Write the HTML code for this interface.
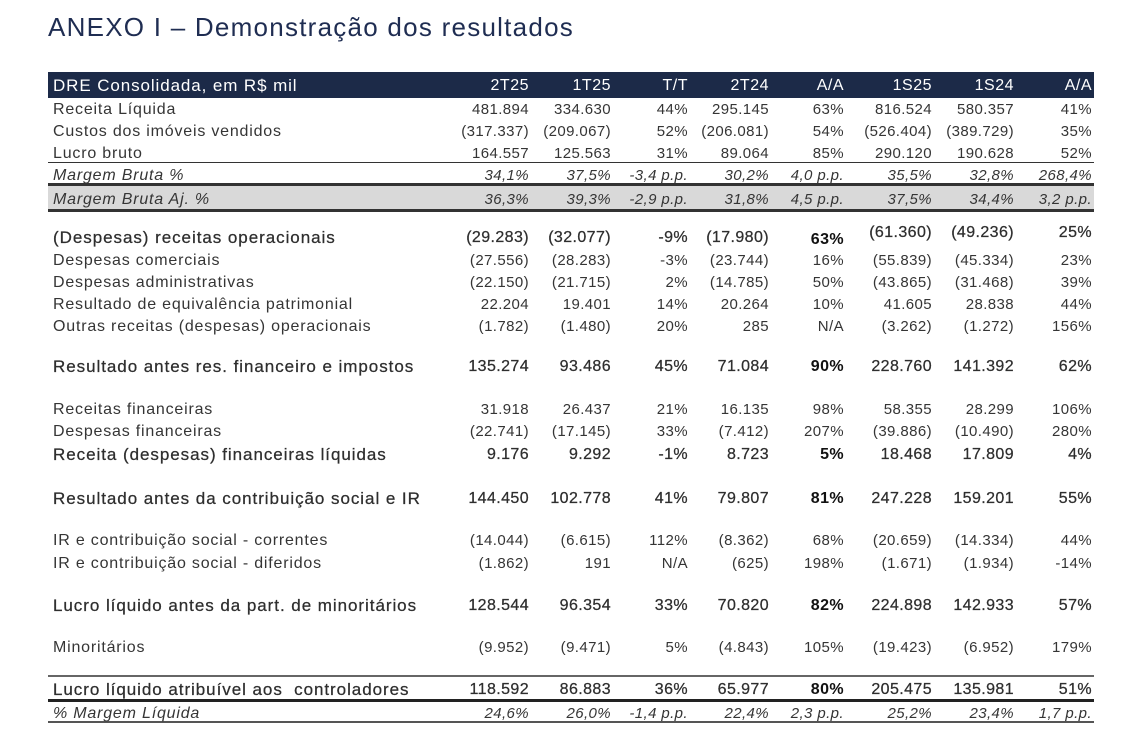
<!DOCTYPE html>
<html><head><meta charset="utf-8">
<style>
html,body{margin:0;padding:0;background:#fff;}
body{width:1132px;height:744px;position:relative;overflow:hidden;font-family:"Liberation Sans",Arial,sans-serif;color:#353535;}
.title{position:absolute;left:48px;top:12px;font-size:26px;line-height:30px;letter-spacing:1.25px;color:#1f2d52;white-space:nowrap;}
.bar{position:absolute;left:48px;width:1046px;top:72px;height:26px;background:#1c2a48;}
.ln{position:absolute;left:48px;width:1046px;}
.gray{position:absolute;left:48px;width:1046px;top:186px;height:23px;background:#d9d9d9;}
.r{position:absolute;left:0;width:1132px;height:22px;line-height:22px;white-space:nowrap;}
.r span{position:absolute;top:0;text-align:right;width:120px;font-size:15px;letter-spacing:0.4px;}
.r .l{left:53px;text-align:left;width:auto;font-size:16px;letter-spacing:0.8px;}
.c1{right:603px}.c2{right:521px}.c3{right:444px}.c4{right:363px}.c5{right:288px}.c6{right:200px}.c7{right:118px}.c8{right:40px}
.h{color:#fff;}
.h span{font-size:16px;letter-spacing:0.5px;}
.h .l{font-size:17px;letter-spacing:0.9px;}
.i span{font-style:italic;}
.b{color:#2e2e2e;}
.b span{font-size:16px;-webkit-text-stroke:0.25px #2e2e2e;}
.b .l{font-size:17px;letter-spacing:0.95px;}
.b .c5{font-weight:bold;-webkit-text-stroke:0;color:#111;}
.up{top:-5px !important;}
</style></head><body>
<div class="title">ANEXO I – Demonstração dos resultados</div>
<div class="bar"></div>
<div class="gray"></div>
<div class="ln" style="top:162px;height:1px;background:#333;"></div>
<div class="ln" style="top:183px;height:3px;background:#333;"></div>
<div class="ln" style="top:209px;height:3px;background:#333;"></div>
<div class="ln" style="top:675px;height:2px;background:#666;"></div>
<div class="ln" style="top:699px;height:3px;background:#222;"></div>
<div class="ln" style="top:721px;height:2px;background:#555;"></div>

<div class="r h" style="top:75px"><span class="l">DRE Consolidada, em R$ mil</span><span class="c1">2T25</span><span class="c2">1T25</span><span class="c3">T/T</span><span class="c4">2T24</span><span class="c5">A/A</span><span class="c6">1S25</span><span class="c7">1S24</span><span class="c8">A/A</span></div>

<div class="r" style="top:99px"><span class="l">Receita Líquida</span><span class="c1">481.894</span><span class="c2">334.630</span><span class="c3">44%</span><span class="c4">295.145</span><span class="c5">63%</span><span class="c6">816.524</span><span class="c7">580.357</span><span class="c8">41%</span></div>
<div class="r" style="top:121px"><span class="l">Custos dos imóveis vendidos</span><span class="c1">(317.337)</span><span class="c2">(209.067)</span><span class="c3">52%</span><span class="c4">(206.081)</span><span class="c5">54%</span><span class="c6">(526.404)</span><span class="c7">(389.729)</span><span class="c8">35%</span></div>
<div class="r" style="top:143px"><span class="l">Lucro bruto</span><span class="c1">164.557</span><span class="c2">125.563</span><span class="c3">31%</span><span class="c4">89.064</span><span class="c5">85%</span><span class="c6">290.120</span><span class="c7">190.628</span><span class="c8">52%</span></div>
<div class="r i" style="top:165px"><span class="l">Margem Bruta %</span><span class="c1">34,1%</span><span class="c2">37,5%</span><span class="c3">-3,4 p.p.</span><span class="c4">30,2%</span><span class="c5">4,0 p.p.</span><span class="c6">35,5%</span><span class="c7">32,8%</span><span class="c8">268,4%</span></div>
<div class="r i" style="top:189px"><span class="l">Margem Bruta Aj. %</span><span class="c1">36,3%</span><span class="c2">39,3%</span><span class="c3">-2,9 p.p.</span><span class="c4">31,8%</span><span class="c5">4,5 p.p.</span><span class="c6">37,5%</span><span class="c7">34,4%</span><span class="c8">3,2 p.p.</span></div>

<div class="r b" style="top:227px"><span class="l">(Despesas) receitas operacionais</span><span class="c1">(29.283)</span><span class="c2">(32.077)</span><span class="c3">-9%</span><span class="c4">(17.980)</span><span class="c5" style="top:2px">63%</span><span class="c6 up">(61.360)</span><span class="c7 up">(49.236)</span><span class="c8 up">25%</span></div>
<div class="r" style="top:250px"><span class="l">Despesas comerciais</span><span class="c1">(27.556)</span><span class="c2">(28.283)</span><span class="c3">-3%</span><span class="c4">(23.744)</span><span class="c5">16%</span><span class="c6">(55.839)</span><span class="c7">(45.334)</span><span class="c8">23%</span></div>
<div class="r" style="top:272px"><span class="l">Despesas administrativas</span><span class="c1">(22.150)</span><span class="c2">(21.715)</span><span class="c3">2%</span><span class="c4">(14.785)</span><span class="c5">50%</span><span class="c6">(43.865)</span><span class="c7">(31.468)</span><span class="c8">39%</span></div>
<div class="r" style="top:294px"><span class="l">Resultado de equivalência patrimonial</span><span class="c1">22.204</span><span class="c2">19.401</span><span class="c3">14%</span><span class="c4">20.264</span><span class="c5">10%</span><span class="c6">41.605</span><span class="c7">28.838</span><span class="c8">44%</span></div>
<div class="r" style="top:316px"><span class="l">Outras receitas (despesas) operacionais</span><span class="c1">(1.782)</span><span class="c2">(1.480)</span><span class="c3">20%</span><span class="c4">285</span><span class="c5">N/A</span><span class="c6">(3.262)</span><span class="c7">(1.272)</span><span class="c8">156%</span></div>

<div class="r b" style="top:356px"><span class="l">Resultado antes res. financeiro e impostos</span><span class="c1">135.274</span><span class="c2">93.486</span><span class="c3">45%</span><span class="c4">71.084</span><span class="c5">90%</span><span class="c6">228.760</span><span class="c7">141.392</span><span class="c8">62%</span></div>

<div class="r" style="top:399px"><span class="l">Receitas financeiras</span><span class="c1">31.918</span><span class="c2">26.437</span><span class="c3">21%</span><span class="c4">16.135</span><span class="c5">98%</span><span class="c6">58.355</span><span class="c7">28.299</span><span class="c8">106%</span></div>
<div class="r" style="top:421px"><span class="l">Despesas financeiras</span><span class="c1">(22.741)</span><span class="c2">(17.145)</span><span class="c3">33%</span><span class="c4">(7.412)</span><span class="c5">207%</span><span class="c6">(39.886)</span><span class="c7">(10.490)</span><span class="c8">280%</span></div>
<div class="r b" style="top:444px"><span class="l">Receita (despesas) financeiras líquidas</span><span class="c1">9.176</span><span class="c2">9.292</span><span class="c3">-1%</span><span class="c4">8.723</span><span class="c5">5%</span><span class="c6">18.468</span><span class="c7">17.809</span><span class="c8">4%</span></div>

<div class="r b" style="top:488px"><span class="l">Resultado antes da contribuição social e IR</span><span class="c1">144.450</span><span class="c2">102.778</span><span class="c3">41%</span><span class="c4">79.807</span><span class="c5">81%</span><span class="c6">247.228</span><span class="c7">159.201</span><span class="c8">55%</span></div>

<div class="r" style="top:530px"><span class="l">IR e contribuição social - correntes</span><span class="c1">(14.044)</span><span class="c2">(6.615)</span><span class="c3">112%</span><span class="c4">(8.362)</span><span class="c5">68%</span><span class="c6">(20.659)</span><span class="c7">(14.334)</span><span class="c8">44%</span></div>
<div class="r" style="top:553px"><span class="l">IR e contribuição social - diferidos</span><span class="c1">(1.862)</span><span class="c2">191</span><span class="c3">N/A</span><span class="c4">(625)</span><span class="c5">198%</span><span class="c6">(1.671)</span><span class="c7">(1.934)</span><span class="c8">-14%</span></div>

<div class="r b" style="top:595px"><span class="l">Lucro líquido antes da part. de minoritários</span><span class="c1">128.544</span><span class="c2">96.354</span><span class="c3">33%</span><span class="c4">70.820</span><span class="c5">82%</span><span class="c6">224.898</span><span class="c7">142.933</span><span class="c8">57%</span></div>

<div class="r" style="top:637px"><span class="l">Minoritários</span><span class="c1">(9.952)</span><span class="c2">(9.471)</span><span class="c3">5%</span><span class="c4">(4.843)</span><span class="c5">105%</span><span class="c6">(19.423)</span><span class="c7">(6.952)</span><span class="c8">179%</span></div>

<div class="r b" style="top:679px"><span class="l">Lucro líquido atribuível aos&nbsp; controladores</span><span class="c1">118.592</span><span class="c2">86.883</span><span class="c3">36%</span><span class="c4">65.977</span><span class="c5">80%</span><span class="c6">205.475</span><span class="c7">135.981</span><span class="c8">51%</span></div>
<div class="r i" style="top:703px"><span class="l">% Margem Líquida</span><span class="c1">24,6%</span><span class="c2">26,0%</span><span class="c3">-1,4 p.p.</span><span class="c4">22,4%</span><span class="c5">2,3 p.p.</span><span class="c6">25,2%</span><span class="c7">23,4%</span><span class="c8">1,7 p.p.</span></div>
</body></html>
